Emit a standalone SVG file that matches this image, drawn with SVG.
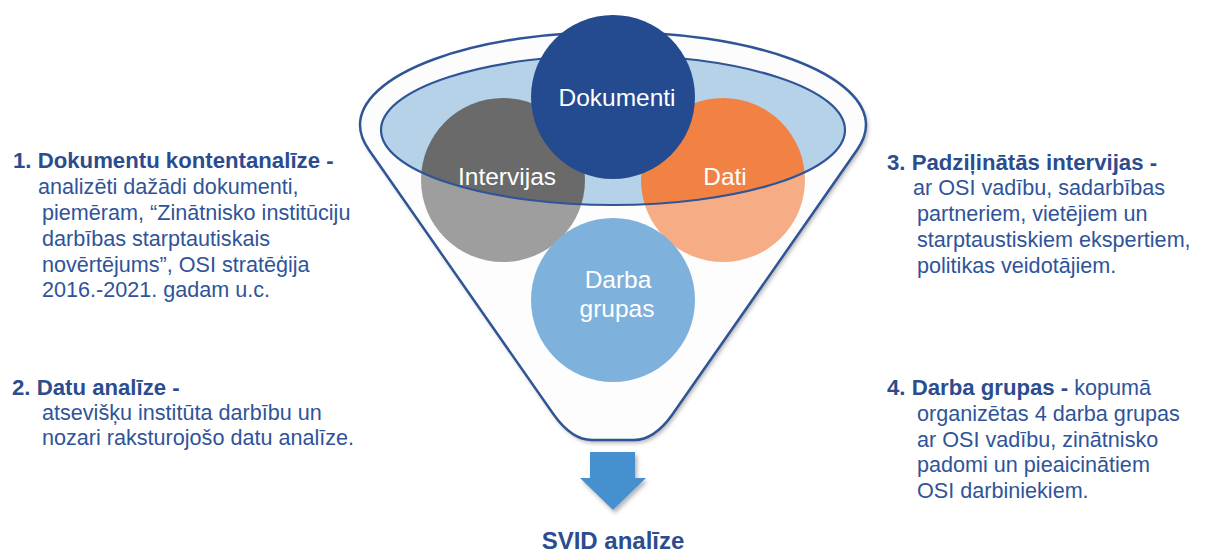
<svg xmlns="http://www.w3.org/2000/svg" width="1206" height="555" viewBox="0 0 1206 555">
<style>
text{font-family:"Liberation Sans",Arial,sans-serif}
.h{font-weight:bold;fill:#2B4C8E;font-size:22.2px}
.t{fill:#2F5499;font-size:21.6px}
.c{fill:#FFFFFF;font-size:24.5px;text-anchor:middle}
.rim{fill:none;stroke:#2F5597;stroke-width:2.5}
</style>
<defs>
<filter id="sh" x="-10%" y="-10%" width="120%" height="130%">
<feDropShadow dx="2" dy="3" stdDeviation="2" flood-color="#000" flood-opacity="0.3"/>
</filter>
<clipPath id="fc">
<path d="M360,125 A253,93 0 0 1 866,125 Q866,137 857,150 L672,415 Q654,440 634,440 L592,440 Q572,440 554,415 L369,150 Q360,137 360,125 Z"/>
</clipPath>
</defs>
<g id="funnel">
<path d="M360,125 A253,93 0 0 1 866,125 Q866,137 857,150 L672,415 Q654,440 634,440 L592,440 Q572,440 554,415 L369,150 Q360,137 360,125 Z" fill="#FCFCFC" filter="url(#sh)"/>
<ellipse cx="613" cy="130" rx="232" ry="75" fill="#B5D2E9"/>
</g>
<g id="intervijas">
<circle cx="503" cy="180" r="82" fill="#6A6A6A"/>
</g>
<g id="dati">
<circle cx="723" cy="180" r="82" fill="#F28244"/>
</g>
<g id="funnel-front">
<path clip-path="url(#fc)" d="M381,130 A232,75 0 0 0 845,130 L900,130 L900,470 L320,470 L320,130 Z" fill="#FFFFFF" fill-opacity="0.35"/>
<ellipse cx="613" cy="130" rx="232" ry="75" fill="none" stroke="#2F5597" stroke-width="2.2"/>
<path class="rim" d="M360,125 A253,93 0 0 1 866,125 Q866,137 857,150 L672,415 Q654,440 634,440 L592,440 Q572,440 554,415 L369,150 Q360,137 360,125 Z"/>
</g>
<g id="dokumenti">
<circle cx="613" cy="97" r="82" fill="#244B8F"/>
<text class="c" x="617" y="106">Dokumenti</text>
</g>
<g id="intervijas-label"><text class="c" x="507" y="185">Intervijas</text></g>
<g id="dati-label"><text class="c" x="725" y="185">Dati</text></g>
<g id="darba-grupas">
<circle cx="613" cy="300" r="82" fill="#7EB1DC"/>
<text class="c" x="618" y="288">Darba</text>
<text class="c" x="617" y="317">grupas</text>
</g>
<g id="connectors">
<path d="M590,452 L635,452 L635,478 L646,478 L613,510 L580,478 L590,478 Z" fill="#4690D0" filter="url(#sh)"/>
</g>
<g id="svid">
<text x="613" y="549" text-anchor="middle" style="font-family:'Liberation Sans',Arial,sans-serif;font-weight:bold;font-size:24px;fill:#2B4C8E">SVID analīze</text>
</g>
<g id="text1">
<text class="h" x="13" y="168">1. Dokumentu kontentanalīze -</text>
<text class="t" x="38" y="194">analizēti dažādi dokumenti,</text>
<text class="t" x="42" y="220">piemēram, “Zinātnisko institūciju</text>
<text class="t" x="42" y="246">darbības starptautiskais</text>
<text class="t" x="42" y="272">novērtējums”, OSI stratēģija</text>
<text class="t" x="42" y="297">2016.-2021. gadam u.c.</text>
</g>
<g id="text2">
<text class="h" x="12" y="395">2. Datu analīze -</text>
<text class="t" x="42" y="420">atsevišķu institūta darbību un</text>
<text class="t" x="42" y="445">nozari raksturojošo datu analīze.</text>
</g>
<g id="text3">
<text class="h" x="887" y="170">3. Padziļinātās intervijas -</text>
<text class="t" x="913" y="195">ar OSI vadību, sadarbības</text>
<text class="t" x="917" y="221">partneriem, vietējiem un</text>
<text class="t" x="917" y="247">starptaustiskiem ekspertiem,</text>
<text class="t" x="917" y="273">politikas veidotājiem.</text>
</g>
<g id="text4">
<text x="887" y="395"><tspan class="h">4. Darba grupas -</tspan><tspan class="t"> kopumā</tspan></text>
<text class="t" x="917" y="421">organizētas 4 darba grupas</text>
<text class="t" x="917" y="447">ar OSI vadību, zinātnisko</text>
<text class="t" x="917" y="472">padomi un pieaicinātiem</text>
<text class="t" x="917" y="498">OSI darbiniekiem.</text>
</g>
</svg>
